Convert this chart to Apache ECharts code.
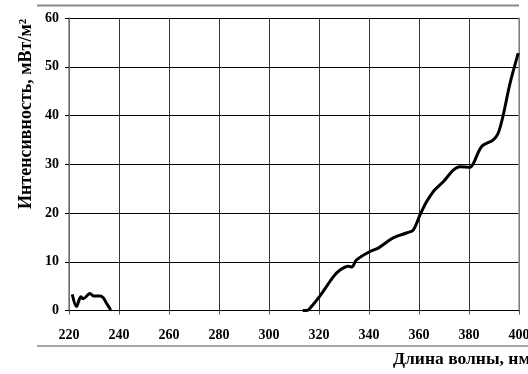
<!DOCTYPE html>
<html>
<head>
<meta charset="utf-8">
<script src="https://cdn.jsdelivr.net/npm/echarts@6/dist/echarts.min.js"></script>
<style>html,body{margin:0;padding:0;background:#fff;}#c{width:528px;height:374px;}</style>
</head>
<body>
<div id="c"></div>
<script>
// Wavelength (nm) and intensity (mW/m^2); null marks the gap between the two parts
var wavelengths = [221.3, 223, 224.7, 225.7, 228.4, 229.7, 232.4, 233.7, 235, 236.7, 237.5,
  313.5, 315.5, 316.4, 320.4, 325.7, 328.4, 331.7, 333.1, 335, 340.4, 343.7, 348.4, 351, 355, 357.7,
  360.4, 363, 365.7, 367, 369.7, 373.7, 376.4, 380.4, 381.7, 385, 389.7, 391.7, 393.7, 396.4, 399.7];
var intensity = [3.3, 0.8, 2.8, 2.4, 3.5, 3.0, 3.0, 2.6, 1.5, 0.1, null,
  0, 0.05, 0.45, 3.0, 6.9, 8.3, 9.1, 8.9, 10.4, 12.1, 12.8, 14.5, 15.2, 15.9, 16.5,
  19.6, 22.3, 24.4, 25.1, 26.4, 28.8, 29.5, 29.4, 30.1, 33.6, 35.0, 36.4, 40.1, 46.6, 52.8];
var xTicks = [220, 240, 260, 280, 300, 320, 340, 360, 380, 400];
var yTicks = [0, 10, 20, 30, 40, 50, 60];
var xName = 'Длина волны, нм';
var yName = 'Интенсивность, мВт/м²';

var points = wavelengths.map(function (w, i) { return [w, intensity[i]]; });
var font = 'Liberation Serif';
var chart = echarts.init(document.getElementById('c'), null, {renderer: 'canvas'});
chart.setOption({
  animation: false,
  backgroundColor: '#fff',
  grid: {left: 69, right: 9, top: 18, bottom: 63.5, containLabel: false, outerBoundsMode: 'none'},
  xAxis: {
    type: 'value', min: xTicks[0], max: xTicks[xTicks.length - 1], interval: 20,
    axisLine: {show: true, lineStyle: {color: '#000', width: 1}},
    axisTick: {show: true, length: 4, lineStyle: {color: '#555'}},
    axisLabel: {color: '#000', fontFamily: font, fontWeight: 'bold', fontSize: 14, margin: 18},
    splitLine: {show: true, lineStyle: {color: '#333', width: 1}}
  },
  yAxis: [{
    type: 'value', min: yTicks[0], max: yTicks[yTicks.length - 1], interval: 10,
    axisLine: {show: true, lineStyle: {color: '#808080', width: 1.5}},
    axisTick: {show: true, length: 4, lineStyle: {color: '#000'}},
    axisLabel: {color: '#000', fontFamily: font, fontWeight: 'bold', fontSize: 14, margin: 10},
    splitLine: {show: true, lineStyle: {color: '#000', width: 1}}
  }, {
    type: 'value', min: 0, max: 60, interval: 10, position: 'right',
    axisLine: {show: true, lineStyle: {color: '#999', width: 1.5}},
    axisTick: {show: false}, axisLabel: {show: false}, splitLine: {show: false}
  }],
  graphic: [
    {type: 'line', shape: {x1: 37, y1: 5.5, x2: 519, y2: 5.5}, style: {stroke: '#888', lineWidth: 2}},
    {type: 'line', shape: {x1: 37, y1: 346, x2: 528, y2: 346}, style: {stroke: '#888', lineWidth: 1.5}},
    {type: 'text', x: 393, y: 359, style: {text: xName, fill: '#000', font: 'bold 17.5px "Liberation Serif"', align: 'left', verticalAlign: 'middle'}},
    {type: 'text', x: 26, y: 114, rotation: Math.PI / 2, style: {text: yName, fill: '#000', font: 'bold 18px "Liberation Serif"', align: 'center', verticalAlign: 'middle'}}
  ],
  series: [{
    type: 'line', data: points, showSymbol: false, smooth: 0.3, connectNulls: false,
    lineStyle: {color: '#000', width: 3}
  }]
});
</script>
</body>
</html>
